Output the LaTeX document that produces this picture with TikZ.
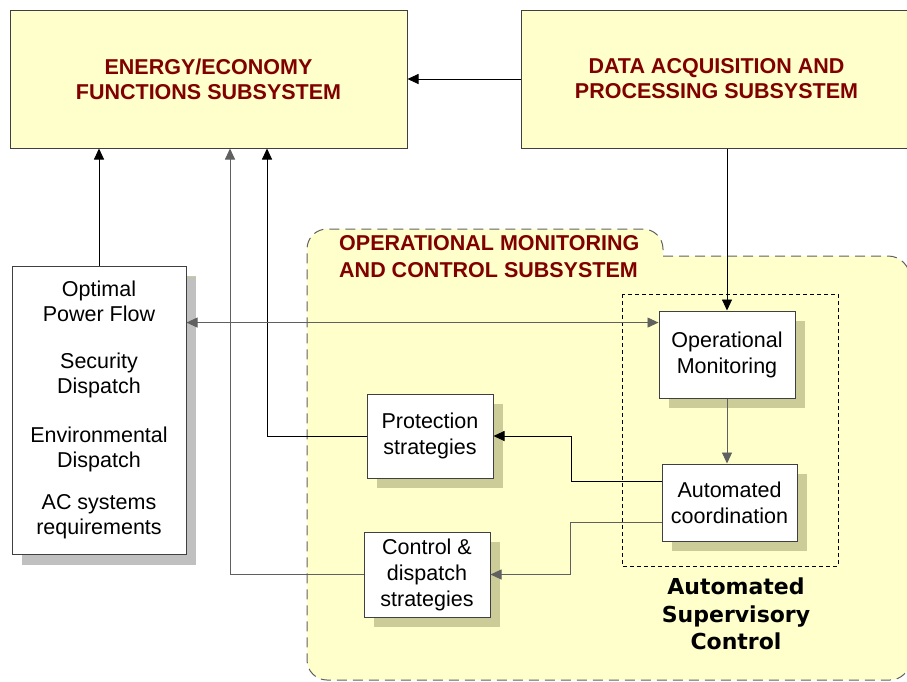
\documentclass[tikz,border=0pt]{standalone}
\usepackage{fontspec}
\setmainfont{Liberation Sans}
\newfontfamily\ascfont{DejaVu Sans}
\usetikzlibrary{arrows.meta,shadows}
\definecolor{paleyellow}{HTML}{FFFFCC}
\definecolor{darkred}{HTML}{800000}
\definecolor{shadowgray}{HTML}{C0C0C0}
\definecolor{shadowolive}{HTML}{CCCC99}
\definecolor{edgegray}{HTML}{404040}
\definecolor{lngray}{HTML}{606060}
\tikzstyle{subsystem}=[draw=edgegray, line width=1pt, fill=paleyellow, text=darkred, font=\bfseries\fontsize{21.5}{25}\selectfont, align=center, inner sep=0pt]
\tikzstyle{func}=[draw=edgegray, line width=1pt, fill=white, font=\fontsize{21.5}{26}\selectfont, align=center, inner sep=0pt, drop shadow={shadow xshift=10pt, shadow yshift=-10pt, fill=shadowolive, opacity=1}]
\tikzstyle{funclist}=[func, font=\fontsize{21.5}{24.5}\selectfont, drop shadow={shadow xshift=10pt, shadow yshift=-11pt, fill=shadowgray, opacity=1}]
\tikzstyle{arr}=[line width=0.9pt, -{Triangle[length=11pt,width=10pt]}]

\begin{document}
\begin{tikzpicture}[x=1pt, y=-1pt]
\useasboundingbox (0,0) rectangle (907,681);
% Operational monitoring and control region
    \draw[fill=paleyellow, draw=lngray, line width=1pt, dash pattern=on 10pt off 6pt]
        (663,256) -- (888,256) arc[start angle=-90, end angle=0, radius=22]
        -- (910,660) arc[start angle=0, end angle=90, radius=20]
        -- (327,680) arc[start angle=90, end angle=180, radius=20]
        -- (307,249) arc[start angle=180, end angle=270, radius=20]
        -- (643,229) arc[start angle=270, end angle=360, radius=20] -- cycle;
    \node[anchor=north west, inner sep=0pt, text=darkred, align=left,
        font=\bfseries\fontsize{21.5}{27}\selectfont] (omtitle) at (339,235)
        {OPERATIONAL MONITORING\\AND CONTROL SUBSYSTEM};
% Automated supervisory control zone
    \draw[line width=0.8pt, dash pattern=on 4pt off 3pt] (622,294) rectangle (838,566);
    \node[font=\ascfont\bfseries\fontsize{22}{27.5}\selectfont, align=center, inner sep=0pt]
        (asc) at (736,614) {Automated\\Supervisory\\Control};
% Subsystems
    \node[subsystem, minimum width=397pt, minimum height=138pt] (energy) at (208.5,79)
        {ENERGY/ECONOMY\\FUNCTIONS SUBSYSTEM};
    \node[subsystem, minimum width=391pt, minimum height=138pt] (data) at (716.5,79)
        {DATA ACQUISITION AND\\PROCESSING SUBSYSTEM};
% Functions
    \node[funclist, minimum width=174pt, minimum height=288pt] (funcs) at (99,410)
        {Optimal\\Power Flow\\[23pt]Security\\Dispatch\\[25pt]Environmental\\Dispatch\\[18pt]AC systems\\requirements};
    \node[func, minimum width=136pt, minimum height=87pt] (opmon) at (727,354.5)
        {Operational\\Monitoring};
    \node[func, minimum width=135pt, minimum height=77pt] (autoc) at (729.5,502.5)
        {Automated\\coordination};
    \node[func, minimum width=126pt, minimum height=84pt] (prot) at (430,436)
        {Protection\\strategies};
    \node[func, minimum width=126pt, minimum height=85pt] (ctrl) at (427,574.5)
        {Control \&\\dispatch\\strategies};
% Connectors
    \draw[arr] (data.west) -- (energy.east);
    \draw[arr] (funcs.north) -- (funcs.north |- energy.south);
    \draw[arr, lngray] (ctrl.west) -| ([xshift=21.5pt]energy.south);
    \draw[arr] (prot.west) -| ([xshift=58.5pt]energy.south);
    \draw[arr, lngray, {Triangle[length=11pt,width=10pt]}-{Triangle[length=11pt,width=10pt]}]
        (funcs.east |- opmon.155) -- (opmon.155);
    \draw[arr] (data.south -| opmon.north) -- (opmon.north);
    \draw[arr, lngray] (opmon.south) -- (opmon.south |- autoc.north);
    \draw[arr] ([yshift=21pt]autoc.west) -- +(-90,0) |- (prot.east);
    \draw[arr, lngray] ([yshift=-20pt]autoc.west) -- +(-91,0) |- (ctrl.east);
\end{tikzpicture}
\end{document}
